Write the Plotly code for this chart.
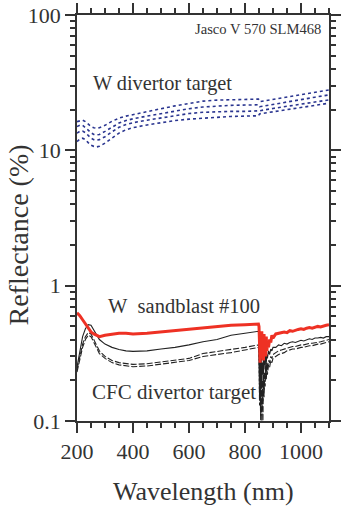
import plotly.graph_objects as go

# ---- W divertor target (4 dotted blue curves) ----
w_wl = [200, 210, 220, 230, 240, 250, 260, 270, 280, 300, 325, 350, 375, 400, 450, 500,
        550, 600, 650, 700, 750, 800, 848, 852, 900, 950, 1000, 1050, 1100]
w1 = [16.3, 16.6, 16.7, 16.3, 15.6, 15.0, 14.7, 14.6, 14.7, 15.3, 16.4, 17.3, 17.9, 18.4, 19.3, 20.3,
      21.3, 22.3, 23.1, 23.5, 23.7, 23.8, 23.9, 22.9, 23.8, 24.7, 25.8, 26.8, 27.9]
w2 = [15.0, 15.3, 15.3, 14.8, 14.1, 13.5, 13.1, 13.0, 13.1, 13.8, 14.9, 15.9, 16.6, 17.1, 17.9, 18.7,
      19.5, 20.3, 20.9, 21.3, 21.5, 21.6, 21.7, 21.0, 21.9, 22.8, 23.7, 24.7, 25.7]
w3 = [13.4, 13.8, 13.9, 13.5, 12.9, 12.3, 12.0, 11.9, 12.0, 12.6, 13.7, 14.8, 15.5, 16.0, 16.7, 17.4,
      18.1, 18.7, 19.1, 19.3, 19.4, 19.4, 19.4, 19.6, 20.4, 21.2, 22.0, 22.8, 23.6]
w4 = [11.6, 12.1, 12.3, 12.0, 11.4, 10.9, 10.7, 10.6, 10.7, 11.3, 12.3, 13.4, 14.2, 14.7, 15.4, 16.0,
      16.6, 17.0, 17.3, 17.6, 17.8, 17.9, 18.0, 18.6, 19.3, 20.1, 20.8, 21.6, 22.3]

# ---- W sandblast and CFC curves ----
wl_lo = [200, 210, 220, 230, 240, 250, 260, 270, 280, 300, 325, 350, 375, 400, 450, 500,
         550, 600, 650, 700, 750, 800, 848]
wl_nz = [850, 852, 854, 856, 858, 860, 862, 864, 866, 868, 870, 872, 874, 876, 878, 880,
         884, 888, 892, 896, 900]
wl_hi = [910, 920, 930, 940, 950, 960, 970, 980, 990, 1000, 1010, 1020, 1030, 1040, 1050,
         1060, 1070, 1080, 1090, 1100]
wl = wl_lo + wl_nz + wl_hi

sand = ([0.63, 0.60, 0.56, 0.52, 0.48, 0.455, 0.44, 0.43, 0.42, 0.43, 0.44, 0.445, 0.445, 0.44,
         0.445, 0.455, 0.465, 0.48, 0.49, 0.50, 0.51, 0.515, 0.52]
        + [0.50, 0.30, 0.27, 0.42, 0.29, 0.46, 0.30, 0.40, 0.28, 0.44, 0.31, 0.36, 0.30, 0.42,
           0.33, 0.38, 0.35, 0.40, 0.38, 0.43, 0.41]
        + [0.44, 0.445, 0.45, 0.455, 0.45, 0.465, 0.46, 0.47, 0.475, 0.48, 0.475, 0.485, 0.49,
           0.485, 0.495, 0.50, 0.495, 0.505, 0.51, 0.515])

cfc_a = ([0.25, 0.33, 0.42, 0.48, 0.515, 0.51, 0.47, 0.43, 0.40, 0.37, 0.35, 0.338, 0.33, 0.327,
          0.33, 0.34, 0.35, 0.365, 0.385, 0.40, 0.43, 0.445, 0.46]
         + [0.40, 0.20, 0.28, 0.16, 0.30, 0.19, 0.27, 0.22, 0.31, 0.24, 0.29, 0.26, 0.32, 0.27,
            0.31, 0.29, 0.33, 0.31, 0.34, 0.33, 0.35]
         + [0.35, 0.365, 0.36, 0.375, 0.37, 0.38, 0.385, 0.38, 0.39, 0.395, 0.39, 0.40, 0.405,
            0.40, 0.41, 0.41, 0.415, 0.41, 0.42, 0.42])

cfc_b = ([0.24, 0.30, 0.37, 0.42, 0.45, 0.44, 0.40, 0.36, 0.33, 0.30, 0.28, 0.27, 0.265, 0.262,
          0.265, 0.272, 0.28, 0.29, 0.315, 0.325, 0.335, 0.35, 0.365]
         + [0.33, 0.15, 0.22, 0.11, 0.24, 0.10, 0.20, 0.14, 0.25, 0.17, 0.23, 0.20, 0.27, 0.22,
            0.27, 0.24, 0.28, 0.27, 0.30, 0.29, 0.31]
         + [0.32, 0.33, 0.335, 0.34, 0.345, 0.35, 0.355, 0.355, 0.36, 0.365, 0.365, 0.37, 0.375,
            0.375, 0.38, 0.385, 0.385, 0.39, 0.395, 0.40])

cfc_c = ([0.23, 0.29, 0.35, 0.40, 0.43, 0.42, 0.38, 0.345, 0.315, 0.29, 0.27, 0.26, 0.255, 0.252,
          0.255, 0.262, 0.27, 0.28, 0.30, 0.31, 0.32, 0.335, 0.35]
         + [0.30, 0.13, 0.19, 0.10, 0.21, 0.12, 0.17, 0.10, 0.22, 0.15, 0.20, 0.18, 0.24, 0.20,
            0.25, 0.22, 0.26, 0.25, 0.28, 0.27, 0.29]
         + [0.30, 0.31, 0.315, 0.32, 0.33, 0.335, 0.34, 0.34, 0.345, 0.35, 0.35, 0.355, 0.36,
            0.36, 0.365, 0.37, 0.37, 0.375, 0.38, 0.385])

x_ticks = [200, 400, 600, 800, 1000]
x_minor = [250, 300, 350, 450, 500, 550, 650, 700, 750, 850, 900, 950, 1050, 1100]
y_ticks = [0.1, 1, 10, 100]
y_ticktext = ["0.1", "1", "10", "100"]
y_minor = [0.2, 0.3, 0.4, 0.5, 0.6, 0.7, 0.8, 0.9, 2, 3, 4, 5, 6, 7, 8, 9,
           20, 30, 40, 50, 60, 70, 80, 90]

BLUE = "#2a3590"
RED = "#ee3124"
BLK = "#222222"
AX = "#333333"
FONT = "Liberation Serif, Times New Roman, serif"

L, R, T, B = 77, 17, 15, 87
W, H = 346, 508
PW, PH = W - L - R, H - T - B

fig = go.Figure()
for w in (w1, w2, w3, w4):
    fig.add_trace(go.Scatter(x=w_wl, y=w, mode="lines",
                             line=dict(color=BLUE, width=1.6, dash="dot")))
fig.add_trace(go.Scatter(x=wl, y=cfc_c, mode="lines", line=dict(color=BLK, width=1.1, dash="6px,2px")))
fig.add_trace(go.Scatter(x=wl, y=cfc_b, mode="lines", line=dict(color=BLK, width=1.1, dash="6px,2px")))
fig.add_trace(go.Scatter(x=wl, y=cfc_a, mode="lines", line=dict(color=BLK, width=1.1)))
fig.add_trace(go.Scatter(x=wl, y=sand, mode="lines", line=dict(color=RED, width=3)))

axis_common = dict(showline=True, linecolor=AX, linewidth=1.5, mirror="allticks",
                   ticks="outside", ticklen=10, tickwidth=1.5, tickcolor=AX,
                   showgrid=False, zeroline=False, automargin=False,
                   tickfont=dict(family=FONT, size=22, color=AX))

fig.update_xaxes(range=[200, 1100], tickmode="array", tickvals=x_ticks,
                 minor=dict(tickmode="array", tickvals=x_minor, ticks="outside",
                            ticklen=5, tickwidth=1.5, tickcolor=AX),
                 **axis_common)
fig.update_yaxes(type="log", range=[-1, 2], tickmode="array", tickvals=y_ticks,
                 ticktext=y_ticktext,
                 minor=dict(tickmode="array", tickvals=y_minor, ticks="outside",
                            ticklen=5, tickwidth=1.5, tickcolor=AX),
                 **axis_common)

def px_x(px):
    return (px - L) / PW

def px_y(py):
    return (H - B - py) / PH

fig.add_annotation(x=1078, y=1.897, xref="x", yref="y", text="Jasco V 570 SLM468",
                   showarrow=False, xanchor="right", yanchor="middle",
                   font=dict(family=FONT, size=14.6, color=AX))
fig.add_annotation(x=250, y=1.491, xref="x", yref="y", text="W divertor target",
                   showarrow=False, xanchor="left", yanchor="middle",
                   font=dict(family=FONT, size=20.3, color=AX))
fig.add_annotation(x=303, y=-0.148, xref="x", yref="y", text="W\u00a0 sandblast #100",
                   showarrow=False, xanchor="left", yanchor="middle",
                   font=dict(family=FONT, size=20.5, color=AX))
fig.add_annotation(x=246, y=-0.782, xref="x", yref="y", text="CFC divertor target",
                   showarrow=False, xanchor="left", yanchor="middle",
                   font=dict(family=FONT, size=21, color=AX))
fig.add_annotation(x=px_x(0), y=px_y(235), xref="paper", yref="paper",
                   text="Reflectance (%)", showarrow=False, textangle=-90,
                   xanchor="left", yanchor="middle",
                   font=dict(family=FONT, size=28, color=AX))
fig.add_annotation(x=px_x(203), y=px_y(508), xref="paper", yref="paper",
                   text="Wavelength (nm)", showarrow=False,
                   xanchor="center", yanchor="bottom",
                   font=dict(family=FONT, size=26, color=AX))

fig.update_layout(width=W, height=H, margin=dict(l=L, r=R, t=T, b=B),
                  paper_bgcolor="white", plot_bgcolor="white", showlegend=False)
fig.write_html("out.html")
